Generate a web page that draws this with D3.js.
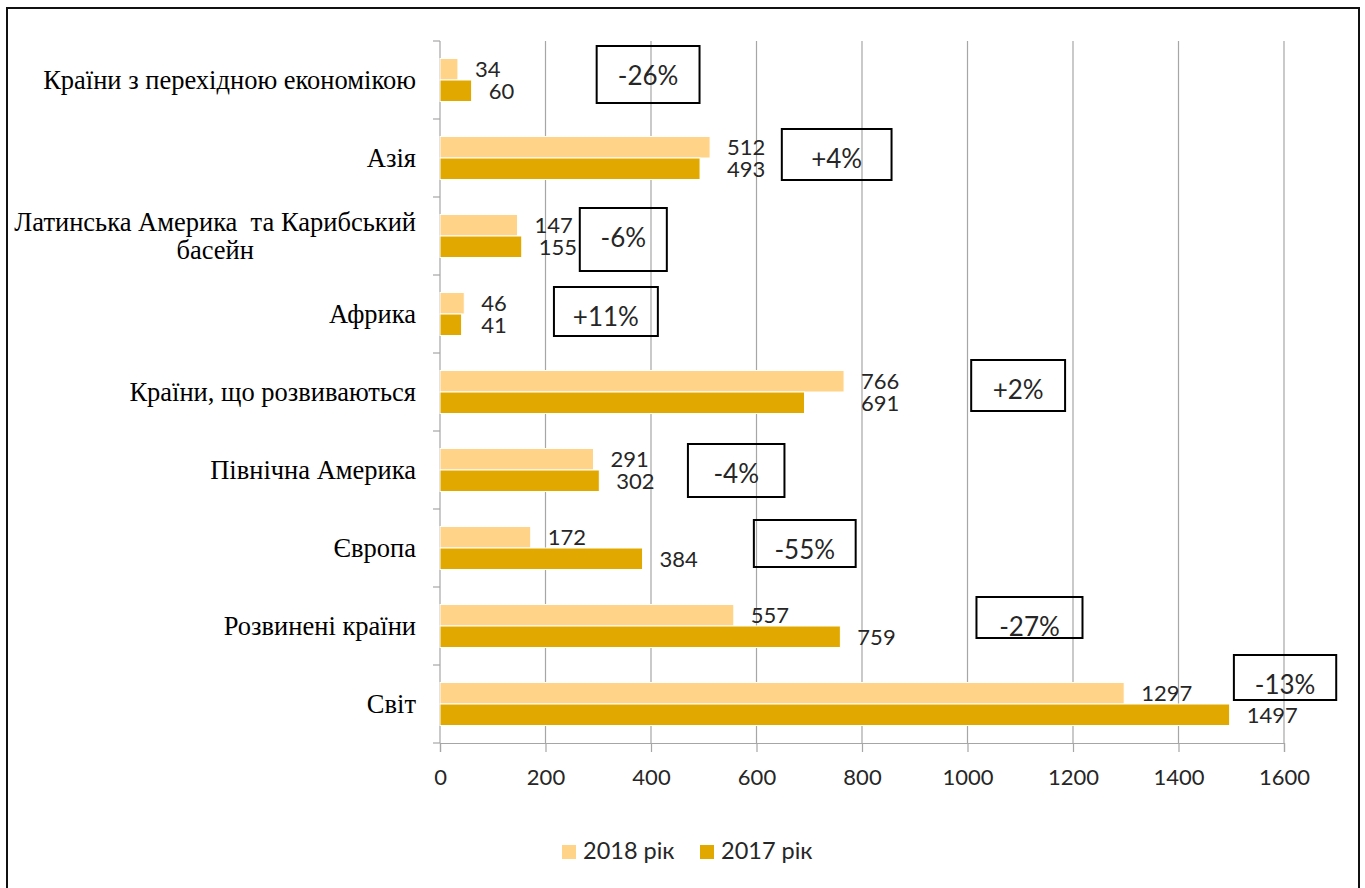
<!DOCTYPE html>
<html lang="uk">
<head>
<meta charset="utf-8">
<script src="https://cdn.jsdelivr.net/npm/d3@7"></script>
<style>
  html, body { margin: 0; padding: 0; background: #fff; }
  svg { display: block; }
  text { white-space: pre; }
</style>
</head>
<body>
<svg id="chart" width="1365" height="888"></svg>
<script>
// Regions, listed top to bottom; "\n" splits a label into lines.
const categories = [
  "Країни з перехідною економікою",
  "Азія",
  "Латинська Америка  та Карибський\nбасейн",
  "Африка",
  "Країни, що розвиваються",
  "Північна Америка",
  "Європа",
  "Розвинені країни",
  "Світ"
];
const values2018 = [34, 512, 147, 46, 766, 291, 172, 557, 1297];
const values2017 = [60, 493, 155, 41, 691, 302, 384, 759, 1497];
const changeLabels = ["-26%", "+4%", "-6%", "+11%", "+2%", "-4%", "-55%", "-27%", "-13%"];
const seriesNames = ["2018 рік", "2017 рік"];
const xTicks = [0, 200, 400, 600, 800, 1000, 1200, 1400, 1600];

// Callout boxes: horizontal extent in axis units, vertical offset/height in px from the band top.
const calloutLayout = [
  { x0: 297, x1: 492, top: 5,   h: 57 },
  { x0: 648, x1: 856, top: 10,  h: 51 },
  { x0: 265, x1: 430, top: 11,  h: 63 },
  { x0: 216, x1: 413, top: 12,  h: 49 },
  { x0: 1007, x1: 1185, top: 7, h: 51 },
  { x0: 470, x1: 653, top: 13,  h: 53 },
  { x0: 595, x1: 788, top: 11,  h: 47 },
  { x0: 1017, x1: 1218, top: 10, h: 41 },
  { x0: 1505, x1: 1699, top: -10, h: 45 }
];

const colors = { "2018 рік": "#FFD388", "2017 рік": "#E1A900" };
const sansFont = "Lato, 'Open Sans', sans-serif";
const serifFont = "'Liberation Serif', 'Times New Roman', serif";

const rows = categories.map((c, i) => ({
  name: c,
  v2018: values2018[i],
  v2017: values2017[i],
  change: changeLabels[i],
  box: calloutLayout[i]
}));

const svg = d3.select("#chart");

// Outer frame
svg.append("rect")
  .attr("x", 7).attr("y", 8).attr("width", 1352).attr("height", 900)
  .attr("fill", "none").attr("stroke", "#111").attr("stroke-width", 2);

const plot = { left: 440, right: 1284, top: 41, bottom: 743 };

const x = d3.scaleLinear().domain([0, 1600]).range([plot.left, plot.right]);
const y = d3.scaleBand().domain(categories).range([plot.top, plot.bottom]).padding(0);
const ySeries = d3.scaleBand().domain(seriesNames).range([17.5, y.bandwidth() - 17.5]).padding(0);

// Vertical gridlines
svg.append("g").selectAll("line").data(xTicks.slice(1)).join("line")
  .attr("x1", d => x(d)).attr("x2", d => x(d))
  .attr("y1", plot.top).attr("y2", plot.bottom)
  .attr("stroke", "#A6A6A6").attr("stroke-width", 1.2);

// Bottom value axis
const xAxis = svg.append("g").attr("transform", `translate(0,${plot.bottom})`)
  .call(d3.axisBottom(x).tickValues(xTicks).tickSize(9).tickPadding(17).tickFormat(d3.format("d")));
xAxis.select(".domain").attr("stroke", "#A6A6A6").attr("stroke-width", 1.2);
xAxis.selectAll(".tick line").attr("stroke", "#A6A6A6").attr("stroke-width", 1.2);
xAxis.selectAll(".tick text")
  .attr("font-family", sansFont).attr("font-size", 22).attr("fill", "#262626");

// Left category axis: line plus ticks at band boundaries
const boundaries = categories.map(c => y(c)).concat([plot.bottom]);
svg.append("line")
  .attr("x1", plot.left).attr("x2", plot.left).attr("y1", plot.top).attr("y2", plot.bottom)
  .attr("stroke", "#A6A6A6").attr("stroke-width", 1.2);
svg.append("g").selectAll("line").data(boundaries).join("line")
  .attr("x1", plot.left - 7).attr("x2", plot.left)
  .attr("y1", d => d).attr("y2", d => d)
  .attr("stroke", "#A6A6A6").attr("stroke-width", 1.2);

// Category labels (right-aligned block, lines centred inside it)
const labelRight = 416;
const labelG = svg.append("g");
rows.forEach(r => {
  const lines = r.name.split("\n");
  const cy = y(r.name) + y.bandwidth() / 2;
  const lineH = 28;
  const texts = lines.map((ln, k) => labelG.append("text")
    .attr("font-family", serifFont).attr("font-size", 26.5).attr("fill", "#000")
    .attr("y", cy + (k - (lines.length - 1) / 2) * lineH)
    .attr("dy", "0.33em")
    .text(ln));
  const widths = texts.map(t => t.node().getComputedTextLength());
  const blockW = d3.max(widths);
  const centerX = labelRight - blockW / 2;
  texts.forEach(t => t.attr("x", centerX).attr("text-anchor", "middle"));
});

// Bars
const barG = svg.append("g");
rows.forEach(r => {
  const band = y(r.name);
  [["2018 рік", r.v2018], ["2017 рік", r.v2017]].forEach(([s, v]) => {
    barG.append("rect")
      .attr("x", x(0))
      .attr("y", band + ySeries(s))
      .attr("width", x(v) - x(0))
      .attr("height", ySeries.bandwidth())
      .attr("fill", colors[s])
      .attr("stroke", "#fff").attr("stroke-width", 1);
  });
});

// Value labels; the 2017 label never sits left of the 2018 bar end
const valG = svg.append("g");
rows.forEach(r => {
  const band = y(r.name);
  const end18 = x(r.v2018);
  const end17 = Math.max(x(r.v2017), end18);
  [["2018 рік", r.v2018, end18], ["2017 рік", r.v2017, end17]].forEach(([s, v, ex]) => {
    valG.append("text")
      .attr("x", ex + 17)
      .attr("y", band + ySeries(s) + ySeries.bandwidth() / 2)
      .attr("dy", "0.36em")
      .attr("font-family", sansFont).attr("font-size", 22).attr("fill", "#262626")
      .text(v);
  });
});

// Change callouts
const boxG = svg.append("g");
rows.forEach(r => {
  const b = r.box;
  const top = y(r.name) + b.top;
  const left = x(b.x0), right = x(b.x1);
  boxG.append("rect")
    .attr("x", left).attr("y", top).attr("width", right - left).attr("height", b.h)
    .attr("fill", "none").attr("stroke", "#000").attr("stroke-width", 2);
  boxG.append("text")
    .attr("x", (left + right) / 2).attr("y", top + 39)
    .attr("text-anchor", "middle")
    .attr("font-family", sansFont).attr("font-size", 26).attr("fill", "#262626")
    .text(r.change);
});

// Legend
const legend = svg.append("g");
const legendItems = [{ s: "2018 рік", x: 562 }, { s: "2017 рік", x: 700 }];
legendItems.forEach(it => {
  legend.append("rect").attr("x", it.x).attr("y", 845).attr("width", 14).attr("height", 14)
    .attr("fill", colors[it.s]);
  legend.append("text").attr("x", it.x + 21).attr("y", 859)
    .attr("font-family", sansFont).attr("font-size", 23.5).attr("fill", "#262626")
    .text(it.s);
});
</script>
</body>
</html>
